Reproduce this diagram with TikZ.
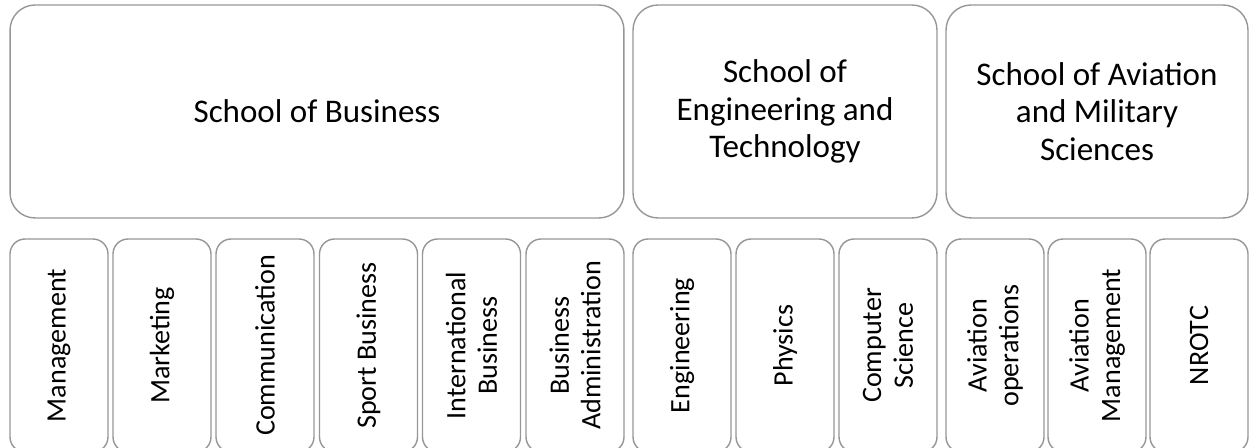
\documentclass[tikz,border=0pt]{standalone}
\usepackage{fontspec}
\setmainfont{Carlito}
\definecolor{boxgray}{RGB}{150,150,150}
\tikzset{
  schoolbox/.style={draw=boxgray, line width=0.8pt, rounded corners=0.5cm,
    minimum height=4.26cm, inner sep=0pt, align=center,
    font=\fontsize{18.8}{21.5}\selectfont},
  deptbox/.style={draw=boxgray, line width=0.8pt, rounded corners=0.3cm,
    rotate=90, minimum width=4.26cm, minimum height=1.96cm, inner sep=0pt,
    align=center, font=\fontsize{16}{18}\selectfont}
}
\newcommand{\school}[4]{%
 \node[schoolbox, minimum width=#3] ({#1}) at ({#2}) {#4};%
}
\newcommand{\dept}[3]{%
 \node[deptbox] ({#1}) at ({#2}) {#3};%
}
\begin{document}
\begin{tikzpicture}[x=0.02cm, y=-0.02cm]
   \clip (0,0) rectangle (1250,448);
   % schools
   \school{bus}{317,111.5}{12.28cm}{School of Business};
   \school{eng}{785,111.5}{6.08cm}{School of\\Engineering and\\Technology};
   \school{avi}{1097,111.5}{6.04cm}{School of Aviation\\and Military\\Sciences};
   % business
   \dept{mgt}{59,345.5}{Management};
   \dept{mkt}{162,345.5}{Marketing};
   \dept{com}{265,345.5}{Communication};
   \dept{spb}{368.5,345.5}{Sport Business};
   \dept{inb}{471.5,345.5}{International\\Business};
   \dept{bad}{575,345.5}{Business\\Administration};
   % engineering
   \dept{egr}{682,345.5}{Engineering};
   \dept{phy}{785,345.5}{Physics};
   \dept{csc}{888,345.5}{Computer\\Science};
   % aviation
   \dept{avo}{995,345.5}{Aviation\\operations};
   \dept{avm}{1097,345.5}{Aviation\\Management};
   \dept{rotc}{1199,345.5}{NROTC};
\end{tikzpicture}
\end{document}
